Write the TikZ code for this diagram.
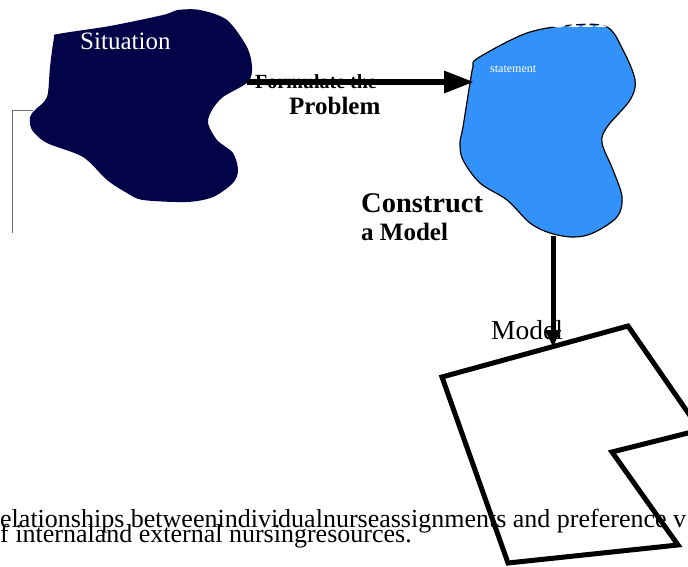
\documentclass[tikz,border=0pt]{standalone}
\usepackage{fontspec}
\setmainfont{Liberation Serif}
\usetikzlibrary{arrows.meta}
\definecolor{navyblob}{RGB}{3,3,72}
\definecolor{skyblob}{RGB}{51,146,250}
\definecolor{guide}{RGB}{110,110,110}
\tikzset{
  lbl/.style={inner sep=0pt, anchor=base west},
  fs/.style={font=\fontsize{#1}{#1}\selectfont},
  fsb/.style={font=\fontsize{#1}{#1}\selectfont\bfseries},
  bigarrow/.style={line width=6pt, -{Triangle[length=30pt,width=21pt]}},
  downarrow/.style={line width=5pt, -{Triangle[length=17pt,width=15pt]}},
}
\begin{document}
\begin{tikzpicture}[x=1pt,y=-1pt]
\useasboundingbox (0,0) rectangle (688,567);
\clip (0,0) rectangle (688,567);

% thin grey bracket on the left
\coordinate (gTop) at (12,110);
\coordinate (gIn) at (33,110);
\coordinate (gBot) at (12,233);
\draw[guide, line width=0.8pt] (gIn) -- (gTop) -- (gBot);

% dark "Situation" blob
\fill[navyblob] plot[smooth cycle, tension=0.5] coordinates {
 (54,38) (58,34) (110,26) (163,15) (178,10) (200,10) (227,20) (247,47) (252,67)
 (248,82) (223,97) (212,110) (208,123) (217,140) (233,153) (238,170)
 (233,183) (213,197) (187,202) (143,200) (127,193) (107,180) (83,157)
 (47,143) (32,130) (30,117) (35,110) (47,97) (50,67)};
\node[lbl, fs=25, text=white] (sit) at (80,50) {Situation};

% blue "problem statement" blob
\filldraw[fill=skyblob, draw=black, line width=1.2pt] plot[smooth cycle, tension=0.55] coordinates {
 (478,58) (527,33) (573,25) (607,27) (623,50) (635,80) (630,100) (607,127)
 (602,143) (613,170) (622,197) (617,217) (593,233) (573,237) (550,233)
 (530,223) (507,200) (480,183) (463,160) (460,143) (463,127) (470,83) (473,67)};
\node[lbl, fs=12, text=white] (stmt) at (490,73) {statement};
\node[inner sep=0pt, anchor=base east, fs=50, text=white] (probw) at (608,28) {Problem};

% formulate arrow
\node[lbl, fsb=20] (form) at (255,89) {Formulate the};
\coordinate (sitE) at (247,82);
\coordinate (probW) at (474,82);
\draw[bigarrow] (sitE) -- (probW);
\node[lbl, fsb=25] (prob) at (289,115) {Problem};

% construct arrow
\node[lbl, fsb=28.5] (cons) at (361,212) {Construct};
\node[lbl, fsb=25] (amod) at (361,240) {a Model};

% bottom caption
\node[lbl, fs=26] (cap1) at (0,527) {elationships betweenindividualnurseassignments and preference v};
\node[lbl, fs=26] (cap2) at (0,542) {f internaland external nursingresources.};

% model polygon
\draw[line width=5pt, line join=miter] (442,377) -- (628,326) -- (700,430) -- (612,452)
  -- (678,545) -- (508,563) -- cycle;

\node[lbl, fs=27.5] (model) at (491,339) {Model};
\coordinate (probS) at (553,236);
\coordinate (modelN) at (553,347);
\draw[downarrow] (probS) -- (modelN);
\end{tikzpicture}
\end{document}
